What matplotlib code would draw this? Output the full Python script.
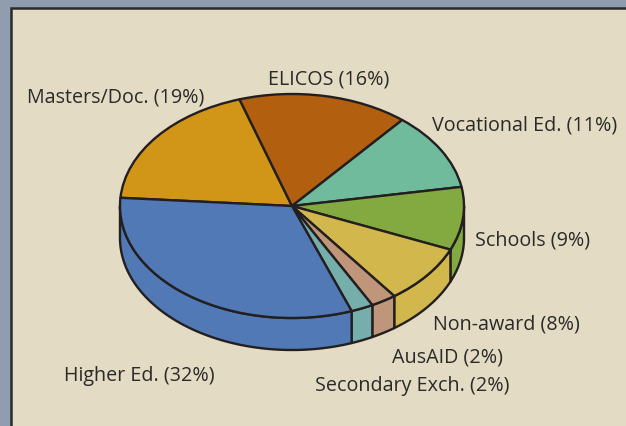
import matplotlib
matplotlib.use('Agg')
import matplotlib.pyplot as plt
import numpy as np
from matplotlib.patches import Rectangle

plt.rcParams['font.family'] = ['Open Sans', 'DejaVu Sans']

categories = ['Masters/Doc.', 'ELICOS', 'Vocational Ed.', 'Schools', 'Non-award',
              'AusAID', 'Secondary Exch.', 'Higher Ed.']
# printed percentages (they only add up to 99)
printed = [19, 16, 11, 9, 8, 2, 2, 32]
# slice sizes
shares = [18.9, 16.0, 11.2, 9.1, 8.5, 2.4, 2.1, 31.8]
colors = ['#D19518', '#B35F10', '#6FBB9B', '#83AA40', '#D2B84C', '#BF9679', '#76AEAB', '#5079B5']
# label anchors in picture pixels (left edge, vertical centre)
label_px = [(27, 98), (268, 80), (432, 126), (475, 241), (433, 325), (392, 357), (315, 386), (64, 376)]

W, H = 626, 427
cx, cy, rx, ry, depth = 292, 207, 172, 112, 32
edge = '#231F20'
lw = 1.7

fig = plt.figure(figsize=(W/100, H/100), dpi=100, facecolor='#8F9DAF')

# background panel, runs off the right and bottom of the picture
fig.add_artist(Rectangle((11/W, -0.05), 1.1, (H-9)/H+0.05, transform=fig.transFigure,
                         facecolor='#E3DBC3', edgecolor='#2A2A2A', lw=1.8, zorder=-1))

# axes in ellipse units, so a unit circle lands on the top face of the pie
ax = fig.add_axes([0, 0, 1, 1])
start = 175.8
wedges, _ = ax.pie(shares, colors=colors, startangle=start, counterclock=False, radius=1,
                   wedgeprops=dict(edgecolor=edge, linewidth=lw, joinstyle='round'), normalize=True)
for w in wedges:
    w.set_zorder(5)
ax.set_aspect('auto')
ax.set_xlim(-cx/rx, (W-cx)/rx)
ax.set_ylim((cy-H)/ry, cy/ry)
ax.axis('off')

# side wall: only the part of each slice facing the viewer
d = depth/ry
angle = start
for share, color in zip(shares, colors):
    end = angle - 360*share/sum(shares)
    for lo, hi in [(max(end, -180), min(angle, 0)), (max(end, 180), min(angle, 360))]:
        if hi <= lo:
            continue
        t = np.radians(np.linspace(lo, hi, 80))
        xs = np.cos(t)
        ys = np.sin(t)
        ax.fill(np.r_[xs, xs[::-1]], np.r_[ys, ys[::-1]-d], facecolor=color,
                edgecolor=edge, lw=lw, joinstyle='round', zorder=3)
    angle = end

for name, pct, (px, py) in zip(categories, printed, label_px):
    ax.text(px/W, 1-py/H, f'{name} ({pct}%)', transform=ax.transAxes, fontsize=14.2,
            color='#2B2A29', ha='left', va='center')

fig.savefig('out.png', dpi=100, facecolor=fig.get_facecolor())
